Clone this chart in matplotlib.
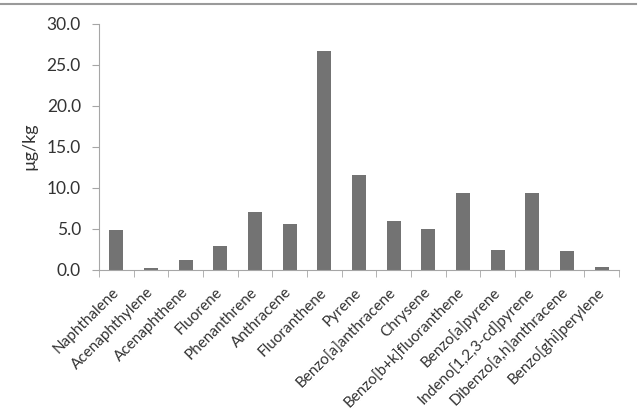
import matplotlib
matplotlib.use("Agg")
import matplotlib.pyplot as plt
import numpy as np
from matplotlib.lines import Line2D

categories = ["Naphthalene", "Acenaphthylene", "Acenaphthene", "Fluorene", "Phenanthrene",
              "Anthracene", "Fluoranthene", "Pyrene", "Benzo[a]anthracene", "Chrysene",
              "Benzo[b+k]fluoranthene", "Benzo[a]pyrene", "Indeno[1,2,3-cd]pyrene",
              "Dibenzo[a,h]anthracene", "Benzo[ghi]perylene"]
values = [4.8, 0.2, 1.1, 2.9, 7.0, 5.5, 26.7, 11.6, 5.9, 5.0, 9.4, 2.4, 9.4, 2.2, 0.35]
yticks = [0, 5, 10, 15, 20, 25, 30]

plt.rcParams['font.family'] = ['Lato', 'DejaVu Sans']
fig = plt.figure(figsize=(6.39, 4.2), dpi=100)
ax = fig.add_axes([99/639, 1-269.5/420, 520/639, 245.5/420])
x = np.arange(len(categories))
ax.bar(x, values, width=0.4, color='#737373')
ax.set_xlim(-0.5, len(categories)-0.5)
ax.set_ylim(0, 30)
ax.set_yticks(yticks)
ax.set_yticklabels([f"{v:.1f}" for v in yticks], fontsize=12.5, color='#333333')
ax.set_xticks(x)
ax.set_xticklabels(categories, rotation=45, ha='right', va='center', rotation_mode='anchor',
                   fontsize=11, color='#333333')
ax.tick_params(axis='x', which='major', length=0, pad=15)
ax.set_xticks(np.arange(-0.5, len(categories)), minor=True)
ax.tick_params(axis='x', which='minor', length=5, color='#a6a6a6', direction='out')
ax.tick_params(axis='y', length=5, color='#a6a6a6', pad=8)
for s in ['top', 'right']:
    ax.spines[s].set_visible(False)
for s in ['left', 'bottom']:
    ax.spines[s].set_color('#a6a6a6')
ax.set_ylabel("µg/kg", fontsize=13, color='#333333', labelpad=7)
fig.add_artist(Line2D([0, 636/639], [1-3.5/420, 1-3.5/420], transform=fig.transFigure,
                      color='#9a9a9a', lw=1.5))
fig.savefig("out.png", dpi=100)
